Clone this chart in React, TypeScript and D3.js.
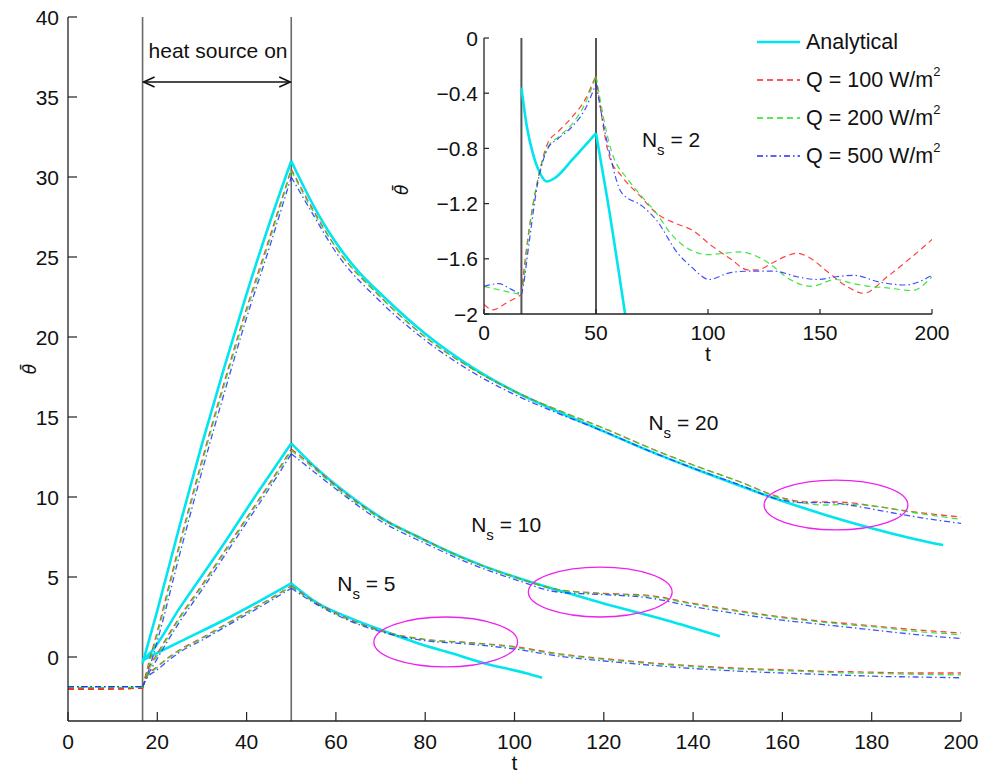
import React from "react";
import * as d3 from "d3";

const FONT = "'Liberation Sans', Arial, Helvetica, sans-serif";

const T_ON = 16.7;
const T_OFF = 50;

// ---- main chart: analytical solutions [t, theta]
const ana20 = [[16.7,-0.4],[20,2.9],[25,8.2],[30,13.3],[35,18.1],[40,22.7],[45,27.0],[50,31.0],[55,28.2],[60,25.9],[65,24.1],[70,22.7],[80,20.2],[90,18.2],[100,16.6],[110,15.3],[120,14.1],[130,12.9],[140,11.8],[150,10.75],[160,9.75],[170,8.85],[180,8.05],[190,7.35],[196,7.0]];
const ana10 = [[16.7,-0.2],[18.4,0.25],[25.1,3.1],[34,6.7],[42.3,10.2],[50,13.35],[56,11.7],[63.5,10.0],[71,8.56],[78.5,7.5],[86,6.5],[93.4,5.65],[102.4,4.8],[110,4.15],[119.2,3.4],[134,2.3],[146,1.3]];
const ana5 = [[16.7,-0.2],[25.1,0.96],[36.3,2.5],[50,4.6],[56,3.35],[63.5,2.4],[71,1.6],[78.5,0.85],[86,0.23],[93.4,-0.4],[102.4,-1.0],[106.2,-1.3]];

// ---- main chart: numerical results on a common time grid
const tNum = [0, 8, 16.7, 17.5, 20, 25, 30, 35, 40, 45, 50, 55, 60, 70, 80, 90, 100, 110, 120, 130, 140, 150, 160, 165, 170, 175, 180, 190, 200];
const ns20Q100 = [-2.0,-2.0,-1.95,-1.0,1.6,7.1,12.3,17.2,21.8,26.1,30.5,27.9,25.6,22.5,20.0,18.1,16.6,15.4,14.3,13.1,12.0,11.0,9.95,9.7,9.7,9.65,9.45,9.05,8.75];
const ns20Q200 = [-1.9,-1.92,-1.9,-1.1,1.4,6.9,12.1,17.0,21.6,25.9,30.4,27.8,25.6,22.5,20.0,18.1,16.6,15.4,14.3,13.1,12.0,11.0,9.9,9.6,9.5,9.55,9.45,9.0,8.6];
const ns20Q500 = [-1.85,-1.85,-1.85,-1.3,1.0,6.4,11.6,16.5,21.2,25.5,30.0,27.6,25.3,22.2,19.8,17.9,16.4,15.2,14.1,12.9,11.8,10.8,9.8,9.65,9.65,9.5,9.25,8.75,8.35];
const ns10Q100 = [-2.0,-2.0,-1.95,-1.1,0.2,2.5,4.5,6.6,8.7,10.8,13.0,11.9,10.7,8.7,7.3,6.0,5.0,4.2,3.98,3.85,3.35,2.9,2.5,2.35,2.2,2.08,1.95,1.7,1.5];
const ns10Q200 = [-1.9,-1.92,-1.9,-1.2,0.1,2.4,4.4,6.5,8.6,10.7,12.9,11.8,10.6,8.65,7.25,6.0,5.0,4.2,3.95,3.8,3.3,2.85,2.45,2.3,2.15,2.0,1.9,1.6,1.4];
const ns10Q500 = [-1.85,-1.85,-1.85,-1.35,-0.1,2.2,4.2,6.3,8.4,10.5,12.7,11.6,10.5,8.5,7.1,5.85,4.85,4.05,3.9,3.7,3.15,2.7,2.3,2.15,2.0,1.85,1.7,1.4,1.15];
const ns5Q100 = [-2.0,-2.0,-1.95,-1.3,-0.6,0.45,1.2,2.0,2.8,3.6,4.45,3.5,2.75,1.65,1.1,0.9,0.65,0.2,-0.1,-0.35,-0.55,-0.7,-0.8,-0.85,-0.9,-0.92,-0.95,-1.0,-1.0];
const ns5Q200 = [-1.9,-1.92,-1.9,-1.35,-0.65,0.4,1.15,1.95,2.75,3.55,4.4,3.45,2.7,1.62,1.08,0.88,0.6,0.15,-0.15,-0.4,-0.6,-0.75,-0.85,-0.9,-0.95,-1.0,-1.02,-1.08,-1.12];
const ns5Q500 = [-1.85,-1.85,-1.85,-1.4,-0.8,0.3,1.05,1.85,2.65,3.45,4.3,3.4,2.65,1.58,1.02,0.8,0.5,0.05,-0.25,-0.5,-0.72,-0.88,-1.0,-1.05,-1.1,-1.15,-1.2,-1.25,-1.3];

// ---- inset (Ns = 2) [t, theta]
const insetAna = [[16.7,-0.36],[19.1,-0.64],[22.2,-0.86],[25,-0.98],[28,-1.04],[32,-1.01],[39.5,-0.88],[50,-0.69],[55.1,-1.17],[63,-2.0]];
const insetQ100 = [[0,-1.93],[4,-1.97],[10,-1.92],[16.7,-1.86],[17.5,-1.73],[20,-1.4],[24,-1.03],[28.5,-0.76],[33,-0.68],[39.5,-0.57],[45,-0.45],[50,-0.27],[56,-0.86],[61.4,-1.0],[70,-1.15],[77,-1.27],[85,-1.34],[92.7,-1.39],[102,-1.51],[110,-1.6],[117.8,-1.68],[122,-1.68],[128.7,-1.63],[135,-1.58],[139.7,-1.56],[144,-1.58],[153.8,-1.7],[162,-1.8],[169.5,-1.85],[180,-1.73],[190,-1.6],[200,-1.46]];
const insetQ200 = [[0,-1.8],[8,-1.83],[16.7,-1.86],[17.5,-1.78],[20,-1.42],[24,-1.03],[28.5,-0.79],[33,-0.72],[39.5,-0.62],[45,-0.48],[50,-0.28],[56.7,-0.81],[64.5,-1.03],[70,-1.14],[77,-1.27],[83,-1.41],[92.7,-1.54],[100,-1.57],[107,-1.56],[114.6,-1.55],[120,-1.57],[127,-1.63],[136.6,-1.75],[146,-1.8],[157,-1.75],[164.8,-1.78],[172,-1.8],[180,-1.81],[191,-1.83],[200,-1.73]];
const insetQ500 = [[0,-1.8],[6.6,-1.78],[12,-1.82],[16.7,-1.86],[17.5,-1.8],[20,-1.5],[24,-1.05],[28.5,-0.8],[33,-0.73],[39.5,-0.64],[45,-0.52],[50,-0.33],[56,-0.83],[61.4,-1.12],[70.8,-1.22],[77,-1.32],[86.5,-1.56],[92.7,-1.66],[100.5,-1.75],[110,-1.7],[117.8,-1.69],[130,-1.69],[139.7,-1.73],[149,-1.75],[157,-1.73],[165,-1.72],[177,-1.77],[188,-1.79],[200,-1.72]];

// ---- ticks
const xTicksMain = [0, 20, 40, 60, 80, 100, 120, 140, 160, 180, 200];
const yTicksMain = [0, 5, 10, 15, 20, 25, 30, 35, 40];
const xTicksInset = [0, 50, 100, 150, 200];
const yTicksInset = [0, -0.4, -0.8, -1.2, -1.6, -2];

// ---- annotations
const ellipseCenters = [[84.6, 0.94], [119.2, 4.06], [172, 9.5]];
const ellipseRadii = [16.1, 1.56];
const nsLabels = [
  { text: "20", t: 130.0, v: 14.2 },
  { text: "10", t: 90.3, v: 7.8 },
  { text: "5", t: 60.3, v: 4.1 },
];
const legendItems = [
  { label: "Analytical", sup: "", color: "#00e5ee", dash: "", width: 2.6 },
  { label: "Q = 100 W/m", sup: "2", color: "#ff2020", dash: "6,4", width: 1.3 },
  { label: "Q = 200 W/m", sup: "2", color: "#22e022", dash: "6,4", width: 1.3 },
  { label: "Q = 500 W/m", sup: "2", color: "#2030ff", dash: "6,3,1.5,3", width: 1.3 },
];

const CYAN = "#00e5ee";
const RED = "#ff2020";
const GREEN = "#22e022";
const BLUE = "#2030ff";

function fmt(v: number) {
  const s = String(Math.abs(v));
  return v < 0 ? "\u2212" + s : s;
}

export default function App() {
  const x = d3.scaleLinear().domain([0, 200]).range([68, 961]);
  const y = d3.scaleLinear().domain([-4, 40]).range([721, 17]);
  const xi = d3.scaleLinear().domain([0, 200]).range([484, 932]);
  const yi = d3.scaleLinear().domain([-2, 0]).range([314, 38]);

  const segPath = (data: number[][], xs: any, ys: any, breaks: number[]) => {
    const b = [-Infinity, ...breaks, Infinity];
    const line = d3
      .line<number[]>()
      .x((d) => xs(d[0]))
      .y((d) => ys(d[1]))
      .curve(d3.curveMonotoneX);
    let out = "";
    for (let i = 0; i < b.length - 1; i++) {
      const seg = data.filter((d) => d[0] >= b[i] && d[0] <= b[i + 1]);
      if (seg.length >= 2) out += line(seg) || "";
    }
    return out;
  };
  const pairs = (vals: number[]) => tNum.map((t, i) => [t, vals[i]]);

  const mainNumeric = [
    { data: ns20Q100, color: RED, dash: "6,4" },
    { data: ns20Q200, color: GREEN, dash: "6,4" },
    { data: ns20Q500, color: BLUE, dash: "6,3,1.5,3" },
    { data: ns10Q100, color: RED, dash: "6,4" },
    { data: ns10Q200, color: GREEN, dash: "6,4" },
    { data: ns10Q500, color: BLUE, dash: "6,3,1.5,3" },
    { data: ns5Q100, color: RED, dash: "6,4" },
    { data: ns5Q200, color: GREEN, dash: "6,4" },
    { data: ns5Q500, color: BLUE, dash: "6,3,1.5,3" },
  ];
  const insetNumeric = [
    { data: insetQ100, color: RED, dash: "6,4" },
    { data: insetQ200, color: GREEN, dash: "6,4" },
    { data: insetQ500, color: BLUE, dash: "6,3,1.5,3" },
  ];

  const arrowY = 82;
  const ax0 = x(T_ON);
  const ax1 = x(T_OFF);

  return (
    <svg
      width={983}
      height={774}
      style={{ position: "absolute", left: 0, top: 0, background: "#fff" }}
      fontFamily={FONT}
    >
      <rect x={0} y={0} width={983} height={774} fill="#fff" />

      {/* heat source lines */}
      {[T_ON, T_OFF].map((t) => (
        <line key={"v" + t} x1={x(t)} x2={x(t)} y1={y(40)} y2={y(-4)} stroke="#6a6a6a" strokeWidth={1.6} />
      ))}

      {/* analytical main */}
      {[ana20, ana10, ana5].map((d, i) => (
        <path key={"a" + i} d={segPath(d, x, y, [T_OFF])} fill="none" stroke={CYAN} strokeWidth={2.6} />
      ))}
      {/* numerics main */}
      {mainNumeric.map((s, i) => (
        <path
          key={"n" + i}
          d={segPath(pairs(s.data), x, y, [T_ON, T_OFF])}
          fill="none"
          stroke={s.color}
          strokeWidth={1.3}
          strokeDasharray={s.dash}
          opacity={0.85}
        />
      ))}

      {/* ellipses */}
      {ellipseCenters.map((c, i) => (
        <ellipse
          key={"e" + i}
          cx={x(c[0])}
          cy={y(c[1])}
          rx={x(ellipseRadii[0]) - x(0)}
          ry={y(0) - y(ellipseRadii[1])}
          fill="none"
          stroke="#ee22ee"
          strokeWidth={1.3}
        />
      ))}

      {/* main axes */}
      <line x1={x(0)} x2={x(0)} y1={y(40)} y2={y(-4)} stroke="#222" strokeWidth={1.3} />
      <line x1={x(0)} x2={x(200)} y1={y(-4)} y2={y(-4)} stroke="#222" strokeWidth={1.3} />
      {yTicksMain.map((v) => (
        <g key={"yt" + v}>
          <line x1={x(0)} x2={x(0) + 9} y1={y(v)} y2={y(v)} stroke="#222" strokeWidth={1.2} />
          <text x={x(0) - 9} y={y(v)} textAnchor="end" dominantBaseline="central" fontSize={21} fill="#111">
            {fmt(v)}
          </text>
        </g>
      ))}
      {xTicksMain.map((v) => (
        <g key={"xt" + v}>
          <line x1={x(v)} x2={x(v)} y1={y(-4)} y2={y(-4) - 9} stroke="#222" strokeWidth={1.2} />
          <text x={x(v)} y={741} textAnchor="middle" dominantBaseline="central" fontSize={21} fill="#111">
            {fmt(v)}
          </text>
        </g>
      ))}
      <text x={(x(0) + x(200)) / 2} y={762} textAnchor="middle" dominantBaseline="central" fontSize={21} fill="#111">
        t
      </text>
      <text
        transform={`translate(30,${y(18)}) rotate(-90)`}
        textAnchor="middle"
        dominantBaseline="central"
        fontSize={17}
        fontStyle="italic"
        fontFamily="'DejaVu Sans', sans-serif"
        fill="#111"
      >
        {"\u03b8\u0304"}
      </text>

      {/* heat source annotation */}
      <text x={ax0 + 6} y={50} dominantBaseline="central" fontSize={21} fill="#111">
        heat source on
      </text>
      <line x1={ax0 + 1} x2={ax1 - 1} y1={arrowY} y2={arrowY} stroke="#111" strokeWidth={1.6} />
      <path
        d={`M${ax0 + 12},${arrowY - 5} L${ax0 + 1},${arrowY} L${ax0 + 12},${arrowY + 5} M${ax1 - 12},${arrowY - 5} L${ax1 - 1},${arrowY} L${ax1 - 12},${arrowY + 5}`}
        fill="none"
        stroke="#111"
        strokeWidth={1.6}
      />

      {/* Ns labels */}
      {nsLabels.map((l) => (
        <text key={"ns" + l.text} x={x(l.t)} y={y(l.v)} fontSize={21} fill="#111">
          N
          <tspan dy={8} fontSize={15}>s</tspan>
          <tspan dy={-8}>{" = " + l.text}</tspan>
        </text>
      ))}

      {/* ---------------- inset ---------------- */}
      {[T_ON, T_OFF].map((t) => (
        <line key={"iv" + t} x1={xi(t)} x2={xi(t)} y1={yi(0)} y2={yi(-2)} stroke="#555" strokeWidth={2} />
      ))}
      <defs>
        <clipPath id="insetClip">
          <rect x={xi(0)} y={yi(0) - 2} width={xi(200) - xi(0)} height={yi(-2) - yi(0) + 2} />
        </clipPath>
      </defs>
      <g clipPath="url(#insetClip)">
        <path d={segPath(insetAna, xi, yi, [T_OFF])} fill="none" stroke={CYAN} strokeWidth={2.6} />
        {insetNumeric.map((s, i) => (
          <path
            key={"in" + i}
            d={segPath(s.data, xi, yi, [T_ON, T_OFF])}
            fill="none"
            stroke={s.color}
            strokeWidth={1.2}
            strokeDasharray={s.dash}
            opacity={0.85}
          />
        ))}
      </g>
      <line x1={xi(0)} x2={xi(0)} y1={yi(0)} y2={yi(-2)} stroke="#222" strokeWidth={1.3} />
      <line x1={xi(0)} x2={xi(200)} y1={yi(-2)} y2={yi(-2)} stroke="#222" strokeWidth={1.3} />
      {yTicksInset.map((v) => (
        <g key={"iyt" + v}>
          <line x1={xi(0)} x2={xi(0) + 5} y1={yi(v)} y2={yi(v)} stroke="#222" strokeWidth={1.2} />
          <text x={xi(0) - 6} y={yi(v)} textAnchor="end" dominantBaseline="central" fontSize={21} fill="#111">
            {fmt(v)}
          </text>
        </g>
      ))}
      {xTicksInset.map((v) => (
        <g key={"ixt" + v}>
          <line x1={xi(v)} x2={xi(v)} y1={yi(-2)} y2={yi(-2) - 5} stroke="#222" strokeWidth={1.2} />
          <text x={xi(v)} y={332} textAnchor="middle" dominantBaseline="central" fontSize={21} fill="#111">
            {fmt(v)}
          </text>
        </g>
      ))}
      <text x={(xi(0) + xi(200)) / 2} y={353} textAnchor="middle" dominantBaseline="central" fontSize={21} fill="#111">
        t
      </text>
      <text
        transform={`translate(402,${yi(-1.1)}) rotate(-90)`}
        textAnchor="middle"
        dominantBaseline="central"
        fontSize={17}
        fontStyle="italic"
        fontFamily="'DejaVu Sans', sans-serif"
        fill="#111"
      >
        {"\u03b8\u0304"}
      </text>
      <text x={xi(70.5)} y={147} fontSize={21} fill="#111">
        N
        <tspan dy={8} fontSize={15}>s</tspan>
        <tspan dy={-8}>{" = 2"}</tspan>
      </text>

      {/* legend */}
      {legendItems.map((it, i) => {
        const ly = 42 + i * 38;
        return (
          <g key={"lg" + i}>
            <line
              x1={757}
              x2={800}
              y1={ly}
              y2={ly}
              stroke={it.color}
              strokeWidth={it.width}
              strokeDasharray={it.dash || undefined}
            />
            <text x={806} y={ly} dominantBaseline="central" fontSize={21.5} fill="#111">
              {it.label}
              {it.sup ? (
                <tspan dy={-9} fontSize={13}>
                  {it.sup}
                </tspan>
              ) : null}
            </text>
          </g>
        );
      })}
    </svg>
  );
}
